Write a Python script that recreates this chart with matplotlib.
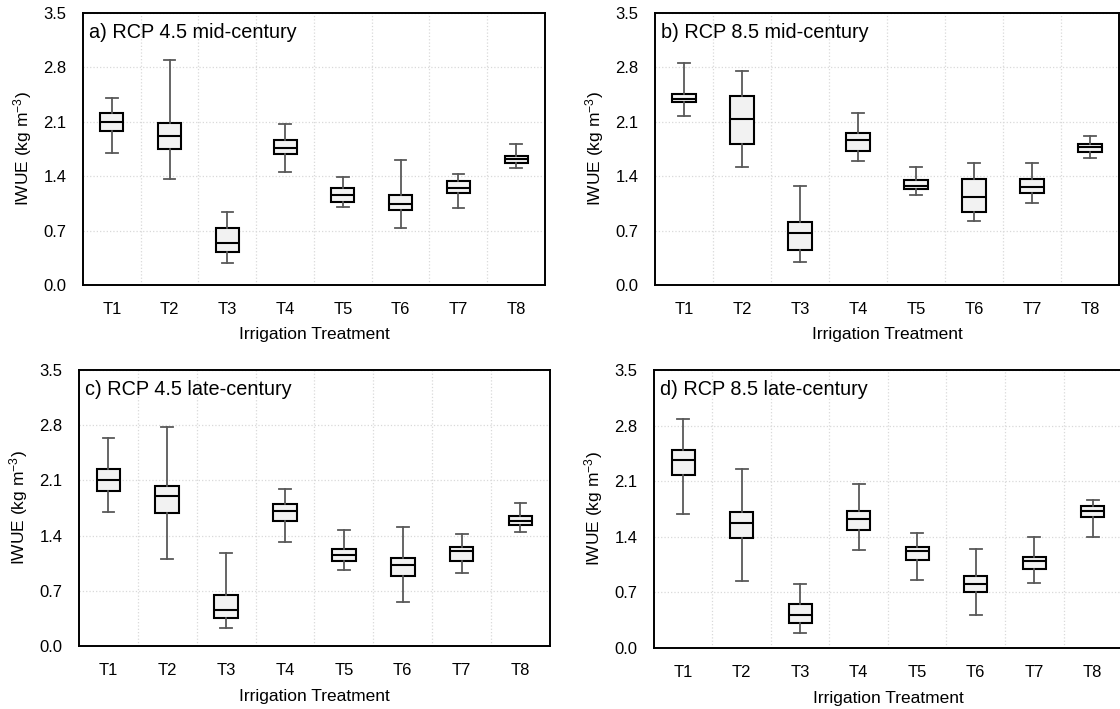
import matplotlib
matplotlib.use("Agg")
import matplotlib.pyplot as plt
from matplotlib.ticker import FixedLocator

plt.rcParams['font.family'] = ['Liberation Sans', 'DejaVu Sans']
plt.rcParams['mathtext.fontset'] = 'custom'
plt.rcParams['mathtext.rm'] = 'Liberation Sans'
plt.rcParams['mathtext.it'] = 'Liberation Sans:italic'

treatments = ["T1", "T2", "T3", "T4", "T5", "T6", "T7", "T8"]

# box stats per scenario: whisker low, Q1, median, Q3, whisker high
a_low = [1.70, 1.37, 0.28, 1.45, 1.01, 0.74, 0.99, 1.50]
a_q1 = [1.98, 1.75, 0.43, 1.69, 1.07, 0.97, 1.18, 1.57]
a_med = [2.10, 1.92, 0.54, 1.76, 1.16, 1.04, 1.25, 1.62]
a_q3 = [2.21, 2.09, 0.73, 1.87, 1.25, 1.16, 1.34, 1.66]
a_high = [2.41, 2.90, 0.94, 2.07, 1.39, 1.61, 1.43, 1.81]

b_low = [2.17, 1.52, 0.29, 1.59, 1.16, 0.83, 1.06, 1.64]
b_q1 = [2.35, 1.81, 0.45, 1.73, 1.23, 0.94, 1.18, 1.71]
b_med = [2.40, 2.14, 0.67, 1.87, 1.28, 1.13, 1.26, 1.77]
b_q3 = [2.46, 2.43, 0.81, 1.96, 1.35, 1.36, 1.36, 1.82]
b_high = [2.86, 2.75, 1.27, 2.22, 1.52, 1.57, 1.57, 1.92]

c_low = [1.70, 1.10, 0.23, 1.32, 0.96, 0.56, 0.93, 1.45]
c_q1 = [1.97, 1.68, 0.35, 1.58, 1.08, 0.89, 1.08, 1.53]
c_med = [2.10, 1.90, 0.46, 1.71, 1.15, 1.03, 1.20, 1.59]
c_q3 = [2.25, 2.03, 0.65, 1.80, 1.23, 1.11, 1.26, 1.65]
c_high = [2.64, 2.78, 1.18, 1.99, 1.47, 1.51, 1.42, 1.81]

d_low = [1.69, 0.84, 0.19, 1.24, 0.86, 0.41, 0.82, 1.40]
d_q1 = [2.18, 1.39, 0.32, 1.49, 1.11, 0.71, 1.00, 1.65]
d_med = [2.37, 1.58, 0.41, 1.62, 1.22, 0.81, 1.09, 1.72]
d_q3 = [2.49, 1.71, 0.55, 1.72, 1.27, 0.91, 1.15, 1.79]
d_high = [2.89, 2.25, 0.81, 2.07, 1.45, 1.25, 1.40, 1.87]

yticks = [0.0, 0.7, 1.4, 2.1, 2.8, 3.5]

panels = [
    ("a) RCP 4.5 mid-century", [0.0741, 0.598, 0.4125, 0.3836], (a_low, a_q1, a_med, a_q3, a_high)),
    ("b) RCP 8.5 mid-century", [0.5848, 0.598, 0.4143, 0.3836], (b_low, b_q1, b_med, b_q3, b_high)),
    ("c) RCP 4.5 late-century", [0.0705, 0.0889, 0.4205, 0.3893], (c_low, c_q1, c_med, c_q3, c_high)),
    ("d) RCP 8.5 late-century", [0.5839, 0.0860, 0.4179, 0.3920], (d_low, d_q1, d_med, d_q3, d_high)),
]

fig = plt.figure(figsize=(11.2, 7.09), dpi=100)

for title, rect, (lo, q1, med, q3, hi) in panels:
    ax = fig.add_axes(rect)
    stats = []
    for i in range(len(treatments)):
        stats.append({"whislo": lo[i], "q1": q1[i], "med": med[i],
                      "q3": q3[i], "whishi": hi[i], "fliers": []})
    ax.bxp(stats, positions=range(1, 9), widths=0.4, patch_artist=True,
           showfliers=False,
           boxprops=dict(facecolor="#F2F2F2", edgecolor="black", linewidth=1.5),
           medianprops=dict(color="black", linewidth=1.5),
           whiskerprops=dict(color="#595959", linewidth=1.3),
           capprops=dict(color="#595959", linewidth=1.3),
           capwidths=0.2, zorder=3)

    ax.set_xlim(0.5, 8.5)
    ax.set_ylim(0, 3.5)
    ax.set_yticks(yticks)
    ax.set_yticklabels([f"{v:.1f}" for v in yticks])
    ax.set_xticks(range(1, 9))
    ax.set_xticklabels(treatments)
    ax.xaxis.set_minor_locator(FixedLocator([1.5 + k for k in range(7)]))
    ax.tick_params(axis="both", which="both", length=0, labelsize=12, pad=12)

    ax.grid(True, axis="y", which="major", color="#D9D9D9", linestyle=":", linewidth=0.9)
    ax.grid(True, axis="x", which="minor", color="#D9D9D9", linestyle=":", linewidth=0.9)
    ax.set_axisbelow(True)

    for sp in ax.spines.values():
        sp.set_color("black")
        sp.set_linewidth(1.4)

    ax.set_xlabel("Irrigation Treatment", fontsize=12.5)
    ax.set_ylabel(r"IWUE (kg m$^{-3}$)", fontsize=12.5)
    ax.xaxis.set_label_coords(0.5, -0.155)
    ax.yaxis.set_label_coords(-0.105, 0.5)

    ax.text(0.012, 0.965, title, transform=ax.transAxes, fontsize=14.3,
            ha="left", va="top")

fig.savefig("out.png", dpi=100)
